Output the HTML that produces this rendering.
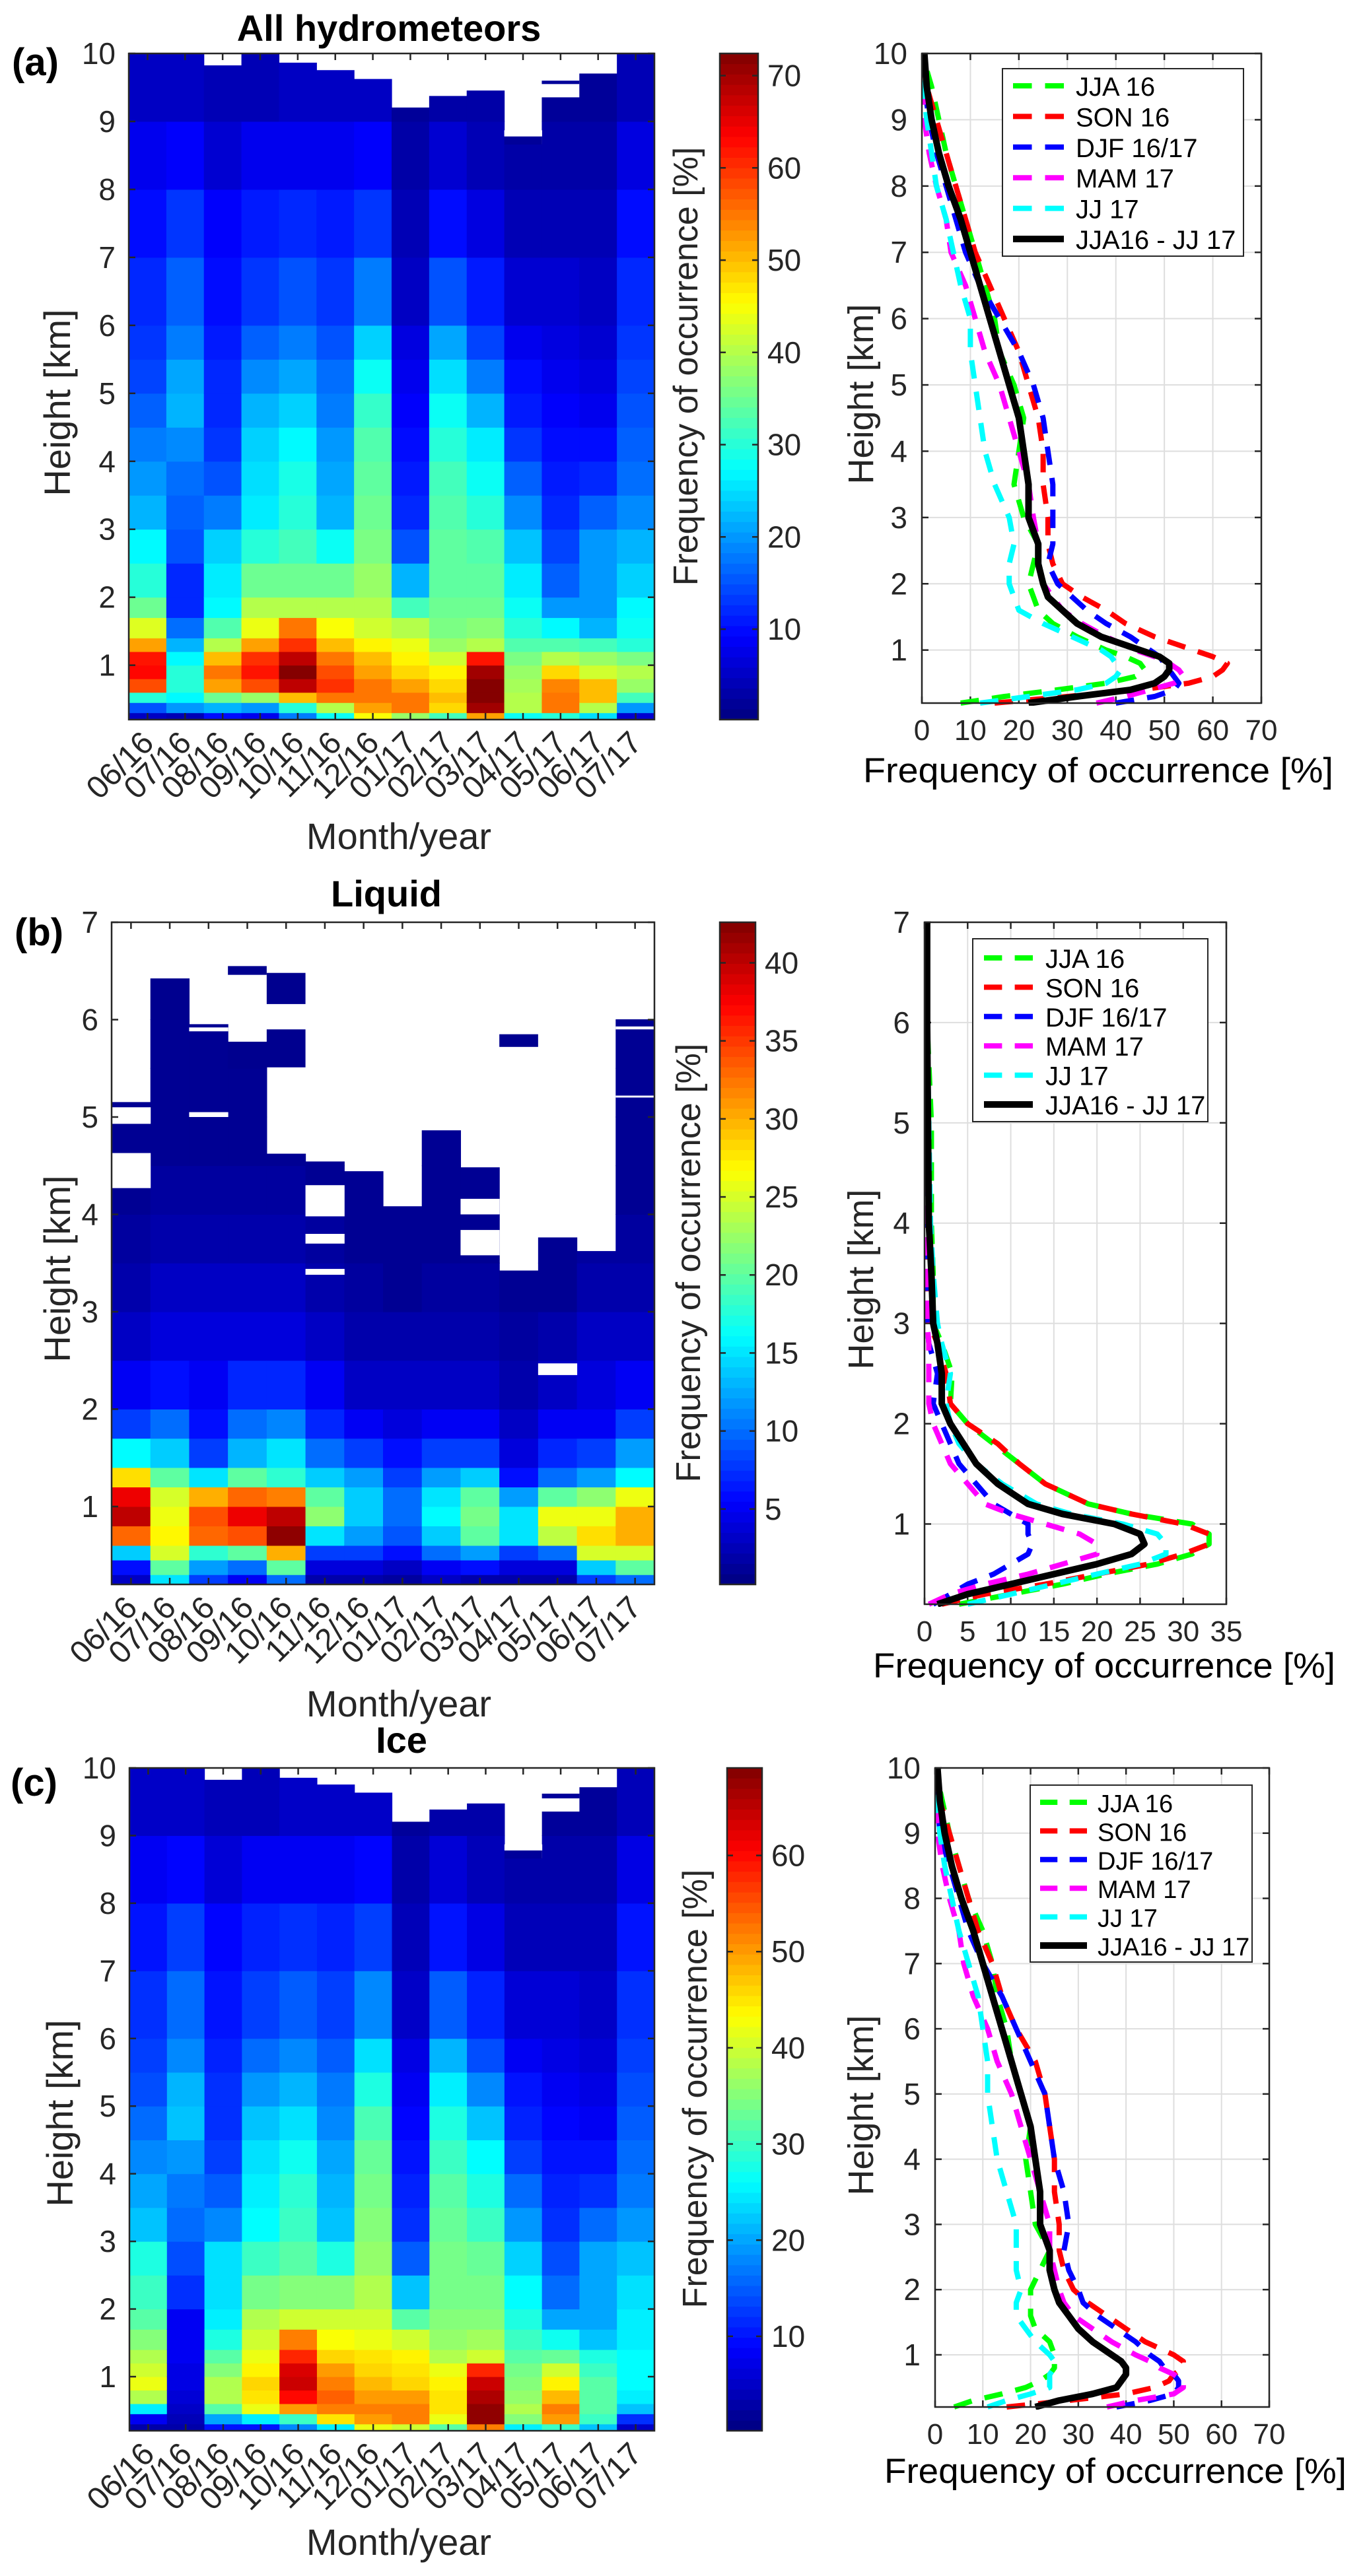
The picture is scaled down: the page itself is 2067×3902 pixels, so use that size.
<!DOCTYPE html>
<html><head><meta charset="utf-8"><style>
html,body{margin:0;padding:0;background:#fff;}
svg{display:block;font-family:"Liberation Sans",Arial,sans-serif;}
</style></head><body>
<svg id="fig" xmlns="http://www.w3.org/2000/svg" width="2067" height="3902" viewBox="0 0 2067 3902"></svg>
<script>
// ---------- DATA ----------
const months = ["06/16","07/16","08/16","09/16","10/16","11/16","12/16","01/17","02/17","03/17","04/17","05/17","06/17","07/17"];
const rowsAC = [0.2,0.3,0.45,0.6,0.8,1.0,1.2,1.4,1.7,2.0,2.5,3.0,3.5,4.0,4.5,5.0,5.5,6.0,7.0,8.0,9.0,10.0];
const rowsB = [0.2,0.3,0.45,0.6,0.8,1.0,1.2,1.4,1.7,2.0,2.5,3.0,3.5,4.0,4.5,5.0,5.5,6.0,6.5,7.0];

const hmA = [
[5,15,30,58,63,62,52,43,35,30,27,22,20,18,16,14,13,12,10,8,5],
[4,20,27,30,30,27,22,17,12,12,15,16,17,19,22,21,18,16,13,9,5],
[10,22,35,52,55,50,40,33,27,26,24,18,15,13,12,12,11,10,9,6,4],
[8,20,38,58,62,60,52,44,40,35,30,26,25,24,22,19,16,13,11,8,4],
[18,30,50,68,72,68,60,55,40,35,32,30,29,27,24,21,18,15,12,8,5],
[28,40,55,60,58,55,50,45,40,35,28,22,21,20,18,17,15,13,11,8,5],
[45,52,55,55,52,50,46,42,40,38,36,35,34,33,31,28,24,18,13,9,5],
[38,55,55,52,48,46,44,40,32,22,15,12,11,10,9,8,7,5,4,3,2],
[32,48,50,48,46,42,38,36,35,34,34,33,32,30,28,25,21,15,10,6,3],
[52,70,72,72,70,62,40,37,35,34,33,30,28,26,22,18,14,11,7,4,3],
[28,40,40,39,38,36,33,30,28,26,23,19,16,13,11,10,8,6,4,3,2],
[30,55,55,54,48,40,33,27,20,16,14,12,11,10,9,8,7,6,4,3,2],
[25,40,50,50,42,38,32,22,20,20,20,16,12,10,8,7,6,5,4,3,2],
[6,20,32,38,40,36,30,28,27,24,22,19,17,16,15,14,13,12,10,7,4]
];
const topA = [10,10,9.82,10,9.86,9.75,9.62,9.2,9.37,9.45,8.66,9.35,9.7,10];
const gapsA = [[10,8.78,8.87]];
const blocksA = [[10,8.66,8.78,2],[11,9.55,9.6,2]];

const hmB = [
[3,6,14,33,40,38,28,16,8,5,3,2,1.5,1,1,1,1,1,1],
[15,20,25,27,26,25,20,14,10,6,4,3,2,1.5,1,1,1,0.8,0.8],
[8,12,18,33,34,30,15,8,6,5,4,3,2,1.5,1,1,1,0.8,0.8],
[5,10,20,34,38,33,20,13,10,7,4,3,2,1.5,1,1,0.8,0.8,0.8],
[10,20,30,42,40,32,18,15,11,7,4,3,2,1.5,1,1,1,0.8,0.8],
[2,4,8,15,22,20,14,10,7,5,3,2,1.5,1,1,1,1,1,1],
[2,4,8,12,14,14,12,8,5,3,2,1.5,1,1,1,1,1,1,1],
[1.5,3,6,9,10,10,8,6,4,3,2,1,1,1,1,1,1,1,1],
[3,5,10,14,16,15,12,8,5,3,2,1.5,1,1,1,1,1,1,1],
[2,6,12,20,21,20,14,8,5,3,2,1.5,1,1,1,1,1,1,1],
[2,4,8,15,15,12,6,4,3,2,1.5,1,1,1,1,1,1,1,1],
[2,4,10,24,26,20,10,7,5,3,2,1,1,1,1,1,1,1,1],
[8,14,25,28,26,22,12,8,5,4,3,2,1.5,1,1,1,1,1,1],
[10,20,25,30,30,26,16,12,8,5,3,2,1.5,1,1,1,1,1,1]
];
const topB = [5.15,6.42,5.95,5.77,4.62,4.54,4.44,4.08,4.86,4.48,3.42,3.76,3.62,6.0];
const gapsB = [[0,4.27,4.63],[0,4.93,5.1],[2,5.88,5.92],[2,5.0,5.05],[5,3.98,4.3],[5,3.7,3.8],[5,3.38,3.44],[9,3.58,3.84],[9,4.0,4.16],[11,2.35,2.47],[13,5.9,5.93],[13,5.2,5.22]];
const blocksB = [[3,6.46,6.55,0.8],[4,5.51,5.9,0.8],[4,6.16,6.48,0.8],[10,5.72,5.85,0.8]];

const hmC = [
[3,8,25,38,42,40,38,35,32,30,28,22,20,18,16,14,13,12,10,8,5],
[3,4,5,6,7,7,8,8,8,12,14,16,17,19,22,21,18,16,13,9,5],
[10,20,32,38,38,35,32,28,25,24,24,18,15,13,12,12,11,10,9,6,4],
[10,25,42,45,46,44,42,40,38,34,30,26,25,24,22,19,16,13,11,8,4],
[18,30,50,60,64,63,58,52,40,35,32,30,29,27,24,21,18,15,12,8,5],
[25,45,52,54,52,50,46,43,40,35,28,22,21,20,18,17,15,13,11,8,5],
[42,50,52,50,48,46,45,42,40,38,36,35,34,33,31,28,24,18,13,9,5],
[40,52,52,50,46,45,44,40,32,22,15,12,11,10,9,8,7,5,4,3,2],
[32,42,45,45,44,42,38,36,35,34,34,33,32,30,28,25,21,15,10,6,3],
[52,68,68,66,64,58,40,37,35,34,33,30,28,26,22,18,14,11,7,4,3],
[25,35,38,36,35,34,32,30,28,26,23,19,16,13,11,10,8,6,4,3,2],
[30,50,52,48,44,40,33,27,20,16,14,12,11,10,9,8,7,6,4,3,2],
[22,30,32,32,32,30,28,22,20,20,20,16,12,10,8,7,6,5,4,3,2],
[5,12,22,25,26,26,26,25,25,24,22,19,17,16,15,14,13,12,10,7,4]
];
const topC = [10,10,9.82,10,9.85,9.75,9.63,9.2,9.38,9.47,8.66,9.35,9.71,10];
const gapsC = [[10,8.78,8.87]];
const blocksC = [[10,8.66,8.78,2],[11,9.55,9.62,2]];

const seasons = ["JJA 16","SON 16","DJF 16/17","MAM 17","JJ 17","JJA16 - JJ 17"];
const seasonColors = ["#00ff00","#ff0000","#0000ff","#ff00ff","#00ffff","#000000"];

const hProfAC = [0.2,0.3,0.4,0.5,0.6,0.7,0.8,0.9,1.0,1.2,1.4,1.6,1.8,2.0,2.3,2.6,3.0,3.5,4.0,4.5,5.0,5.5,6.0,6.5,7.0,7.5,8.0,8.5,9.0,9.5,10];
const profA_JJA16 = [8,17,28,38,44,46,45,42,38,32,27,24,23,22,23,24,21,19,20,21,19,16,15,13,11,9,7,5,3.5,2,0];
const profA_SON16 = [15,30,45,55,60,62,63,60,56,48,42,38,33,29,27,26,26,25,25,24,22,20,17,14,11,9,7,5,3,1,0];
const profA_DJF = [40,48,52,53,52,51,50,49,47,43,38,34,31,28,26,27,27,27,26,25,23,20,16,12,9,7,5,3,1.5,0.5,0];
const profA_MAM17 = [36,42,47,52,54,53,51,48,44,38,33,29,27,25,24,24,23,22,20,18,16,13,11,9,6,5,3,1.5,0.5,0,0];
const profA_JJ17 = [12,22,32,38,40,41,40,39,37,31,25,20,19,18,18,19,18,15,13,12,11,10,10,8,6.5,5,3,2,1,0.3,0];
const profA_ALL = [22,32,43,48,50,51,51,49,45,37,32,29,26,25,24,24,22,22,21,20,18,16,14,12,10,8,5.5,3.5,2,1,0.5];

const hProfB = [0.2,0.3,0.4,0.5,0.6,0.7,0.8,0.9,1.0,1.1,1.2,1.4,1.6,1.8,2.0,2.2,2.5,2.8,3.0,3.5,4.0,5.0,6.0,7.0];
const profB_JJA16 = [4,10,16,21,27,31,33,33,31,24,19,14,11,8,5,3,3.2,2,1,1,0.8,0.8,0.3,0];
const profB_SON16 = [2,7,14,20,26,30,33,33,30,24,19,14,11,8.5,5,3,2.5,1.5,0.5,0.3,0.2,0.1,0,0];
const profB_DJF = [1,3,5,8,10,12,12.5,12,12,10,8,6,4,3,2,1,1.5,0.5,0.3,0.2,0,0,0,0];
const profB_MAM17 = [0.5,3,7,12,16,20,20,18,14,10,7,5,3,2,1,0.5,0.5,0.5,0.3,0.2,0,0,0,0];
const profB_JJ17 = [5,10,15,20,25,28,28,27,23,17,13,9,6,4,3,2.5,3,2,1.5,1,0.7,0.5,0.3,0];
const profB_ALL = [1.5,5,10,15,20,24,25.5,25,22,16,12,8.5,6,4.5,3,2,2,1.5,1,0.8,0.5,0.4,0.3,0.3];

const profC_JJA16 = [4,8,14,19,22,24,25,25,25,24,21,20,20,20,22,24,21,20,19,20,18,16,15,13,12,10,7,5,3,1.5,0];
const profC_SON16 = [15,28,40,46,49,50,52,52,50,44,40,36,32,29,27,26,26,25,25,24,23,21,17,14,12,9,7,5,3,1,0];
const profC_DJF = [38,45,50,51,51,50,48,47,45,42,38,34,31,30,28,27,28,27,25,24,23,20,17,14,10,7,5,3,1,0.5,0];
const profC_MAM17 = [36,42,50,52,52,50,47,45,42,37,33,29,27,26,25,24,24,22,20,18,16,13,11,8,6,5,3,1.5,0.5,0,0];
const profC_JJ17 = [11,15,20,24,24,24,25,25,24,21,19,17,17,18,17,17,17,15,13,12,11,11,10,9,7,5,3.5,2,1,0.3,0];
const profC_ALL = [21,26,33,38,39,40,40,39,37,33,30,28,26,25,24,24,22,22,21,20,18,16,14,12,10,8,5.5,3.5,2,1,0.5];

const cbTicksA = [10,20,30,40,50,60,70];
const cbTicksB = [5,10,15,20,25,30,35,40];
const cbTicksC = [10,20,30,40,50,60];
const yTicksAC = [1,2,3,4,5,6,7,8,9,10];
const yTicksB = [1,2,3,4,5,6,7];
const xTicks70 = [0,10,20,30,40,50,60,70];
const xTicks35 = [0,5,10,15,20,25,30,35];

// ---------- RENDER ----------
const NS = "http://www.w3.org/2000/svg";
const svg = document.getElementById("fig");
function mk(tag, attrs, parent, text){
  const e = document.createElementNS(NS, tag);
  for (const k in attrs) e.setAttribute(k, attrs[k]);
  if (text !== undefined) e.textContent = text;
  (parent || svg).appendChild(e);
  return e;
}
function jet(t){
  t = Math.max(0, Math.min(1, t));
  const c = v => Math.round(255*Math.max(0, Math.min(1, v)));
  const r = c(1.5 - Math.abs(4*t - 3)), g = c(1.5 - Math.abs(4*t - 2)), b = c(1.5 - Math.abs(4*t - 1));
  return `rgb(${r},${g},${b})`;
}
const TXT = "#262626";

function heatmap(cfg){
  const g = mk("g", {});
  
  
  const {x0,x1,y0,y1,hmin,hmax,vmin,vmax} = cfg;
  const ys = h => y1 - (h - hmin) / (hmax - hmin) * (y1 - y0);
  const cw = (x1 - x0) / months.length;
  const xs = i => x0 + i * cw;
  const col = v => jet((v - vmin) / (vmax - vmin));
  cfg.data.forEach((colVals, i) => {
    colVals.forEach((v, j) => {
      const lo = cfg.rows[j], hi = Math.min(cfg.rows[j+1], cfg.top[i]);
      if (hi <= lo) return;
      const r = mk("rect", {x: xs(i), y: ys(hi) - 0.5, width: cw + 0.6, height: ys(lo) - ys(hi) + 1, fill: col(v)}, g);
      
      
    });
  });
  cfg.blocks.forEach(b => {
    const r = mk("rect", {x: xs(b[0]), y: ys(b[2]), width: cw, height: ys(b[1]) - ys(b[2]), fill: col(b[3])}, g);
    
    
  });
  cfg.gaps.forEach(b => {
    const r = mk("rect", {x: xs(b[0]), y: ys(b[2]), width: cw + 0.5, height: ys(b[1]) - ys(b[2]), fill: "#fff"}, g);
    
    
  });
  const box = mk("rect", {x: x0, y: y0, width: x1 - x0, height: y1 - y0, fill: "none", stroke: TXT, "stroke-width": 2.5});
  
  
  months.forEach((m, i) => {
    const cx = xs(i) + cw/2;
    mk("line", {x1: cx, x2: cx, y1: y1, y2: y1 - 10, stroke: TXT, "stroke-width": 2.5});
    mk("line", {x1: cx, x2: cx, y1: y0, y2: y0 + 10, stroke: TXT, "stroke-width": 2.5});
    const tx = cx + 12, ty = y1 + 38;
    const t = mk("text", {x: tx, y: ty, "text-anchor": "end", "font-size": 48, fill: TXT, transform: `rotate(-45 ${tx} ${ty})`}, svg, m);
    
    
  });
  cfg.yticks.forEach(h => {
    const y = ys(h);
    mk("line", {x1: x0, x2: x0 + 10, y1: y, y2: y, stroke: TXT, "stroke-width": 2.5});
    mk("line", {x1: x1, x2: x1 - 10, y1: y, y2: y, stroke: TXT, "stroke-width": 2.5});
    const t = mk("text", {x: x0 - 20, y: y + 16, "text-anchor": "end", "font-size": 46, fill: TXT}, svg, String(h));
    
    
  });
  const tt = mk("text", {x: cfg.titleX, y: cfg.titleY, "text-anchor": "middle", "font-size": 56, "font-weight": "bold", fill: "#000"}, svg, cfg.title);
  
  
  const pl = mk("text", {x: cfg.labX, y: cfg.labY, "font-size": 58, "font-weight": "bold", fill: "#000"}, svg, cfg.lab);
  
  
  const yl = mk("text", {x: cfg.ylX, y: cfg.ylY, "text-anchor": "middle", "font-size": 56, fill: TXT, transform: `rotate(-90 ${cfg.ylX} ${cfg.ylY})`}, svg, "Height [km]");
  
  
  const xl = mk("text", {x: 604, y: cfg.xlY, "text-anchor": "middle", "font-size": 56, fill: TXT}, svg, "Month/year");
  
  
  const cb = cfg.cb;
  const cg = mk("g", {});
  
  
  const N = 64;
  for (let k = 0; k < N; k++){
    const ya = y1 - (k+1)/N*(y1 - y0), yb = y1 - k/N*(y1 - y0);
    mk("rect", {x: cb.x0, y: ya - 0.3, width: cb.x1 - cb.x0, height: yb - ya + 0.6, fill: jet((k+0.5)/N)}, cg);
  }
  mk("rect", {x: cb.x0, y: y0, width: cb.x1 - cb.x0, height: y1 - y0, fill: "none", stroke: TXT, "stroke-width": 2.5}, cg);
  const cys = v => y1 - (v - vmin)/(vmax - vmin)*(y1 - y0);
  cfg.cbTicks.forEach(v => {
    const y = cys(v);
    mk("line", {x1: cb.x1, x2: cb.x1 - 9, y1: y, y2: y, stroke: TXT, "stroke-width": 2.5}, cg);
    mk("line", {x1: cb.x0, x2: cb.x0 + 9, y1: y, y2: y, stroke: TXT, "stroke-width": 2.5}, cg);
    const t = mk("text", {x: cb.tx, y: y + 16, "font-size": 46, fill: TXT}, cg, String(v));
    
    
  });
  const cl = mk("text", {x: cb.lx, y: cb.ly, "text-anchor": "middle", "font-size": 52, fill: TXT, transform: `rotate(-90 ${cb.lx} ${cb.ly})`}, svg, "Frequency of occurrence [%]");
  
  
}

function profiles(cfg){
  const {x0,x1,y0,y1,hmin,hmax,xmax} = cfg;
  const xs = v => x0 + v / xmax * (x1 - x0);
  const ys = h => y1 - (h - hmin)/(hmax - hmin)*(y1 - y0);
  const g = mk("g", {});
  
  
  cfg.xticks.forEach(v => {
    const x = xs(v);
    if (v > 0 && v < xmax) mk("line", {x1: x, x2: x, y1: y0, y2: y1, stroke: "#dedede", "stroke-width": 2}, g);
    mk("line", {x1: x, x2: x, y1: y1, y2: y1 - 10, stroke: TXT, "stroke-width": 2.5}, g);
    mk("line", {x1: x, x2: x, y1: y0, y2: y0 + 10, stroke: TXT, "stroke-width": 2.5}, g);
    const t = mk("text", {x: x, y: y1 + 56, "text-anchor": "middle", "font-size": 44, fill: TXT}, g, String(v));
    
    
  });
  cfg.yticks.forEach(h => {
    const y = ys(h);
    if (h < hmax) mk("line", {x1: x0, x2: x1, y1: y, y2: y, stroke: "#dedede", "stroke-width": 2}, g);
    mk("line", {x1: x0, x2: x0 + 10, y1: y, y2: y, stroke: TXT, "stroke-width": 2.5}, g);
    mk("line", {x1: x1, x2: x1 - 10, y1: y, y2: y, stroke: TXT, "stroke-width": 2.5}, g);
    const t = mk("text", {x: x0 - 22, y: y + 16, "text-anchor": "end", "font-size": 46, fill: TXT}, g, String(h));
    
    
  });
  const clipId = cfg.name + "-clip";
  const cp = mk("clipPath", {id: clipId}, g);
  mk("rect", {x: x0, y: y0 - 6, width: x1 - x0, height: y1 - y0 + 10}, cp);
  cfg.series.forEach((vals, si) => {
    const d = vals.map((v, k) => (k ? "L" : "M") + xs(v).toFixed(1) + "," + ys(cfg.h[k]).toFixed(1)).join(" ");
    const black = si === 5;
    const p = mk("path", {d: d, fill: "none", stroke: seasonColors[si], "stroke-width": black ? 10 : 8, "stroke-dasharray": black ? "none" : "28 20", "stroke-linejoin": "round", "clip-path": `url(#${clipId})`}, g);
    
    
  });
  const box = mk("rect", {x: x0, y: y0, width: x1 - x0, height: y1 - y0, fill: "none", stroke: TXT, "stroke-width": 2.5}, g);
  
  
  const L = cfg.leg;
  const lg = mk("g", {});
  
  
  mk("rect", {x: L.x, y: L.y, width: L.w, height: L.h, fill: "#fff", stroke: TXT, "stroke-width": 2}, lg);
  seasons.forEach((s, si) => {
    const y = L.r0 + si * L.dy;
    const black = si === 5;
    const e = mk("g", {}, lg);
    
    
    mk("line", {x1: L.lx0, x2: L.lx1, y1: y, y2: y, stroke: seasonColors[si], "stroke-width": black ? 10 : 8, "stroke-dasharray": black ? "none" : ((L.lx1 - L.lx0) * 0.37) + " " + ((L.lx1 - L.lx0) * 0.26)}, e);
    mk("text", {x: L.tx, y: y + 15, "font-size": L.fs, fill: "#000"}, e, s);
  });
  const xt = mk("text", {x: cfg.xlX0, y: cfg.xlY, "font-size": 53, fill: "#000", textLength: cfg.xlW, lengthAdjust: "spacingAndGlyphs"}, svg, "Frequency of occurrence [%]");
  
  
  const yt = mk("text", {x: 1322, y: cfg.ylY, "text-anchor": "middle", "font-size": 54, fill: TXT, transform: `rotate(-90 1322 ${cfg.ylY})`}, svg, "Height [km]");
  
  
}

heatmap({name:"all-hydrometeors", x0:195, x1:991, y0:81, y1:1090, hmin:0.2, hmax:10, vmin:0.2, vmax:72.4,
  data: hmA, rows: rowsAC, top: topA, gaps: gapsA, blocks: blocksA, yticks: yTicksAC, cbTicks: cbTicksA,
  title:"All hydrometeors", titleX:589, titleY:62, lab:"(a)", labX:18, labY:114, ylX:106, ylY:610, xlY:1286,
  cb:{x0:1090, x1:1148, tx:1162, lx:1056, ly:555}});
heatmap({name:"liquid", x0:169, x1:991, y0:1397, y1:2400, hmin:0.2, hmax:7, vmin:0.17, vmax:42.6,
  data: hmB, rows: rowsB, top: topB, gaps: gapsB, blocks: blocksB, yticks: yTicksB, cbTicks: cbTicksB,
  title:"Liquid", titleX:585, titleY:1373, lab:"(b)", labX:22, labY:1432, ylX:106, ylY:1922, xlY:2600,
  cb:{x0:1090, x1:1144, tx:1158, lx:1060, ly:1913}});
heatmap({name:"ice", x0:196, x1:991, y0:2678, y1:3682, hmin:0.2, hmax:10, vmin:0.18, vmax:69.1,
  data: hmC, rows: rowsAC, top: topC, gaps: gapsC, blocks: blocksC, yticks: yTicksAC, cbTicks: cbTicksC,
  title:"Ice", titleX:608, titleY:2655, lab:"(c)", labX:16, labY:2720, ylX:110, ylY:3201, xlY:3870,
  cb:{x0:1101, x1:1154, tx:1168, lx:1070, ly:3164}});

profiles({name:"all-profiles", x0:1396, x1:1910, y0:81, y1:1065, hmin:0.2, hmax:10, xmax:70, xticks:xTicks70, yticks:yTicksAC,
  h: hProfAC, series:[profA_JJA16, profA_SON16, profA_DJF, profA_MAM17, profA_JJ17, profA_ALL],
  leg:{x:1518, y:104, w:365, h:284, r0:130, dy:46.4, lx0:1534, lx1:1611, tx:1629, fs:40}, xlX0:1307, xlW:712, xlY:1185, ylY:597});
profiles({name:"liquid-profiles", x0:1400, x1:1857, y0:1397, y1:2430, hmin:0.2, hmax:7, xmax:35, xticks:xTicks35, yticks:yTicksB,
  h: hProfB, series:[profB_JJA16, profB_SON16, profB_DJF, profB_MAM17, profB_JJ17, profB_ALL],
  leg:{x:1473, y:1422, w:356, h:277, r0:1451, dy:44.4, lx0:1490, lx1:1564, tx:1583, fs:40}, xlX0:1322, xlW:700, xlY:2541, ylY:1938});
profiles({name:"ice-profiles", x0:1416, x1:1922, y0:2678, y1:3646, hmin:0.2, hmax:10, xmax:70, xticks:xTicks70, yticks:yTicksAC,
  h: hProfAC, series:[profC_JJA16, profC_SON16, profC_DJF, profC_MAM17, profC_JJ17, profC_ALL],
  leg:{x:1560, y:2704, w:336, h:268, r0:2730, dy:43.4, lx0:1575, lx1:1646, tx:1662, fs:38}, xlX0:1339, xlW:700, xlY:3761, ylY:3189});
</script>
</body></html>
